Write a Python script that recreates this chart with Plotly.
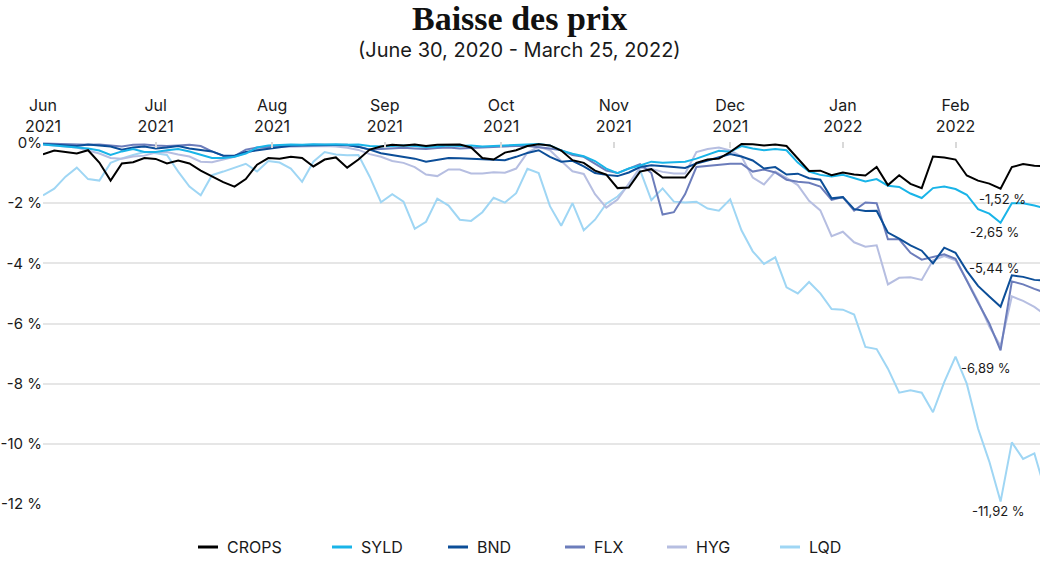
import pandas as pd
import plotly.graph_objects as go

# ---------------- data ----------------
start = "2021-06-30"
dates = pd.date_range(start, periods=90, freq="3D")

series_names = ["CROPS", "SYLD", "BND", "FLX", "HYG", "LQD"]
series_colors = ["#000000", "#19b4e8", "#0c4e98", "#6c7dbb", "#b6bee1", "#9fd6f4"]

crops = [-0.38, -0.25, -0.30, -0.35, -0.24, -0.65, -1.25, -0.68, -0.64, -0.50,
         -0.53, -0.68, -0.58, -0.68, -0.92, -1.10, -1.30, -1.45, -1.20, -0.72,
         -0.50, -0.52, -0.46, -0.50, -0.78, -0.55, -0.48, -0.82, -0.55, -0.22,
         -0.12, -0.06, -0.08, -0.05, -0.10, -0.06, -0.05, -0.05, -0.15, -0.50,
         -0.55, -0.32, -0.24, -0.10, -0.04, -0.08, -0.25, -0.57, -0.66, -0.92,
         -1.05, -1.50, -1.48, -0.95, -0.87, -1.15, -1.15, -1.15, -0.66, -0.55,
         -0.52, -0.30, -0.03, -0.04, -0.08, -0.05, -0.10, -0.52, -0.93, -0.92,
         -1.07, -0.98, -1.05, -1.08, -0.80, -1.40, -1.07, -1.36, -1.50, -0.45,
         -0.48, -0.55, -1.08, -1.25, -1.35, -1.52, -0.80, -0.70, -0.76, -0.77]

syld = [-0.05, -0.08, -0.12, -0.15, -0.18, -0.25, -0.40, -0.28, -0.20, -0.30,
        -0.30, -0.24, -0.20, -0.28, -0.38, -0.50, -0.50, -0.46, -0.35, -0.15,
        -0.08, -0.06, -0.05, -0.06, -0.04, -0.05, -0.04, -0.06, -0.05, -0.10,
        -0.12, -0.10, -0.08, -0.10, -0.13, -0.12, -0.08, -0.10, -0.08, -0.12,
        -0.10, -0.08, -0.05, -0.03, -0.03, -0.08, -0.25, -0.36, -0.44, -0.60,
        -0.85, -1.00, -0.85, -0.75, -0.62, -0.66, -0.63, -0.62, -0.52, -0.38,
        -0.26, -0.29, -0.10, -0.18, -0.24, -0.20, -0.24, -0.65, -0.95, -1.06,
        -1.11, -1.06, -1.18, -1.28, -1.20, -1.42, -1.46, -1.68, -1.83, -1.50,
        -1.45, -1.53, -1.72, -2.20, -2.35, -2.65, -2.00, -2.00, -2.08, -2.18]

bnd = [-0.03, -0.05, -0.08, -0.10, -0.05, -0.08, -0.12, -0.22, -0.15, -0.12,
       -0.18, -0.15, -0.10, -0.18, -0.22, -0.28, -0.42, -0.42, -0.30, -0.24,
       -0.19, -0.14, -0.09, -0.08, -0.08, -0.07, -0.06, -0.06, -0.13, -0.22,
       -0.34, -0.40, -0.46, -0.52, -0.62, -0.57, -0.50, -0.51, -0.52, -0.53,
       -0.55, -0.57, -0.46, -0.33, -0.24, -0.46, -0.62, -0.59, -0.78, -1.00,
       -1.06, -1.10, -0.98, -0.80, -0.74, -0.76, -0.80, -0.83, -0.68, -0.58,
       -0.48, -0.37, -0.45, -0.58, -0.85, -0.80, -1.05, -1.02, -1.17, -1.22,
       -1.84, -1.80, -2.20, -2.26, -2.25, -2.98, -3.18, -3.40, -3.58, -4.00,
       -3.48, -3.65, -4.25, -4.75, -5.10, -5.44, -4.40, -4.45, -4.55, -4.58]

flx = [-0.02, -0.03, -0.05, -0.04, -0.06, -0.05, -0.08, -0.12, -0.06, -0.05,
       -0.08, -0.10, -0.08, -0.06, -0.10, -0.28, -0.42, -0.44, -0.22, -0.15,
       -0.13, -0.10, -0.08, -0.07, -0.06, -0.06, -0.07, -0.08, -0.12, -0.22,
       -0.20, -0.18, -0.16, -0.18, -0.20, -0.17, -0.15, -0.18, -0.16, -0.15,
       -0.14, -0.12, -0.10, -0.10, -0.13, -0.18, -0.24, -0.40, -0.46, -0.70,
       -0.92, -1.00, -0.86, -0.70, -1.00, -2.38, -2.30, -1.70, -0.80, -0.76,
       -0.74, -0.69, -0.69, -0.95, -0.88, -0.98, -1.22, -1.29, -1.32, -1.45,
       -1.89, -1.80, -2.25, -1.98, -2.00, -3.20, -3.20, -3.65, -3.88, -3.80,
       -3.70, -3.85, -4.60, -5.30, -6.00, -6.89, -4.60, -4.70, -4.85, -4.98]

hyg = [-0.05, -0.08, -0.10, -0.15, -0.25, -0.35, -0.50, -0.52, -0.45, -0.42,
       -0.32, -0.30, -0.38, -0.45, -0.62, -0.64, -0.55, -0.46, -0.33, -0.22,
       -0.14, -0.13, -0.13, -0.12, -0.11, -0.10, -0.12, -0.16, -0.23, -0.37,
       -0.46, -0.60, -0.66, -0.80, -1.05, -1.10, -0.88, -0.88, -1.01, -1.01,
       -0.97, -0.99, -0.85, -0.32, -0.13, -0.24, -0.60, -0.94, -1.03, -1.70,
       -2.15, -1.88, -1.35, -0.82, -0.86, -0.96, -1.01, -1.01, -0.30, -0.20,
       -0.15, -0.25, -0.45, -1.15, -1.38, -0.95, -1.16, -1.40, -1.92, -2.24,
       -3.10, -2.95, -3.30, -3.45, -3.40, -4.70, -4.48, -4.46, -4.55, -3.90,
       -3.76, -3.90, -4.55, -5.25, -6.10, -6.75, -5.10, -5.25, -5.45, -5.72]

lqd = [-1.74, -1.52, -1.12, -0.82, -1.20, -1.25, -0.66, -0.51, -0.40, -0.30,
       -0.34, -0.40, -0.95, -1.45, -1.74, -1.07, -0.95, -0.82, -0.69, -0.95,
       -0.60, -0.65, -0.85, -1.29, -0.62, -0.30, -0.38, -0.41, -0.40, -1.12,
       -1.97, -1.70, -1.95, -2.85, -2.62, -1.85, -2.08, -2.55, -2.59, -2.30,
       -1.82, -1.98, -1.67, -0.86, -1.00, -2.10, -2.75, -2.00, -2.90, -2.55,
       -2.02, -1.78, -1.40, -0.90, -1.90, -1.51, -1.95, -1.98, -1.95, -2.18,
       -2.25, -1.87, -2.90, -3.60, -4.02, -3.80, -4.80, -5.00, -4.62, -5.00,
       -5.52, -5.54, -5.70, -6.78, -6.85, -7.50, -8.30, -8.22, -8.30, -8.95,
       -7.95, -7.10, -8.00, -9.49, -10.59, -11.92, -9.95, -10.50, -10.32, -11.60]

series_values = [crops, syld, bnd, flx, hyg, lqd]

# labelled minima: (series, x shift px, y shift px)
min_labels = [("CROPS", 2, -10), ("SYLD", -6, -9), ("BND", -6, 39),
              ("FLX", -15, -18), ("LQD", -2, -9)]

month_tick_dates = ["2021-06-30", "2021-07-30", "2021-08-30", "2021-09-29", "2021-10-30",
                    "2021-11-29", "2021-12-30", "2022-01-29", "2022-02-28"]
month_tick_text = ["Jun<br>2021", "Jul<br>2021", "Aug<br>2021", "Sep<br>2021", "Oct<br>2021",
                   "Nov<br>2021", "Dec<br>2021", "Jan<br>2022", "Feb<br>2022"]
y_tick_vals = [0, -2, -4, -6, -8, -10, -12]
y_tick_text = ["0%", "-2 %", "-4 %", "-6 %", "-8 %", "-10 %", "-12 %"]

title_text = "Baisse des prix"
subtitle_text = "(June 30, 2020 - March 25, 2022)"

# ---------------- figure ----------------
FONT = "Inter"
fig = go.Figure()
for name, vals, col in reversed(list(zip(series_names, series_values, series_colors))):
    fig.add_trace(go.Scatter(x=dates, y=vals, mode="lines", name=name,
                             line=dict(color=col, width=2), showlegend=False))

x_end = pd.Timestamp(start) + pd.Timedelta(days=265.5)
fig.update_layout(
    width=1040, height=561,
    margin=dict(l=43, r=0, t=142, b=56),
    paper_bgcolor="white", plot_bgcolor="white",
    font=dict(family=FONT, color="#1a1a1a"),
    xaxis=dict(type="date", side="top", range=[pd.Timestamp(start), x_end],
               tickvals=month_tick_dates, ticktext=month_tick_text,
               tickfont=dict(size=16, family=FONT, color="#1a1a1a"),
               ticklabelstandoff=6,
               showgrid=False, zeroline=False, showline=False,
               ticks="inside", ticklen=6, tickcolor="#d9d9d9", tickwidth=1.5),
    yaxis=dict(range=[-12.033, 0.033], tickvals=y_tick_vals, ticktext=y_tick_text,
               tickfont=dict(size=15, family=FONT, color="#1a1a1a"),
               showgrid=True, gridcolor="#e6e6e6", gridwidth=2,
               zeroline=False, showline=False, ticks=""),
)

ann = []
ann.append(dict(text="<b>" + title_text + "</b>", x=0.4784, y=(505 - 18) / 363,
                xref="paper", yref="paper", yanchor="middle",
                showarrow=False, font=dict(family="Liberation Serif", size=34, color="#111111")))
ann.append(dict(text=subtitle_text, x=0.4784, y=(505 - 50) / 363,
                xref="paper", yref="paper", yanchor="middle",
                showarrow=False, font=dict(family=FONT, size=20, color="#1a1a1a")))

# min labels (last occurrence of each series' minimum)
for name, xs, ys in min_labels:
    vals = series_values[series_names.index(name)]
    vmin = min(vals[:89])
    idx = max(i for i, v in enumerate(vals[:89]) if v == vmin)
    txt = ("%.2f %%" % vmin).replace(".", ",")
    ann.append(dict(text=txt, x=dates[idx], y=vmin, xref="x", yref="y", showarrow=False,
                    xshift=xs, yshift=ys, font=dict(family=FONT, size=13, color="#1a1a1a")))

# custom legend
legend_line_px = [198, 332, 448, 565, 667, 780]
shapes = []
for name, col, px in zip(series_names, series_colors, legend_line_px):
    x0 = (px - 43) / 997
    x1 = (px + 20 - 43) / 997
    yl = (505 - 547) / 363
    shapes.append(dict(type="line", xref="paper", yref="paper", x0=x0, x1=x1, y0=yl, y1=yl,
                       line=dict(color=col, width=3)))
    ann.append(dict(text=name, x=(px + 27 - 43) / 997, y=yl, xref="paper", yref="paper",
                    xanchor="left", yanchor="middle", showarrow=False,
                    font=dict(family=FONT, size=16, color="#1a1a1a")))

fig.update_layout(annotations=ann, shapes=shapes)
fig.write_html("out.html")
